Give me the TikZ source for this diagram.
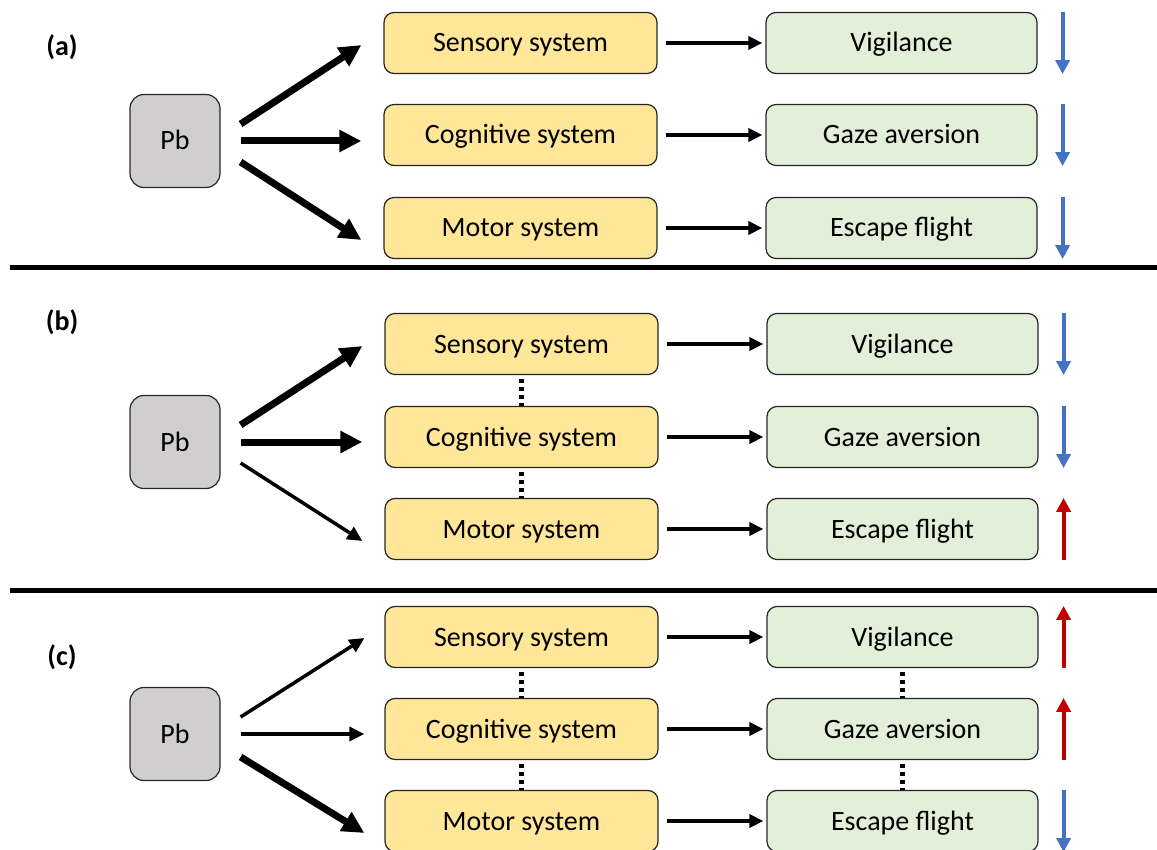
\documentclass[tikz,border=0pt]{standalone}
\usepackage{fontspec}
\setmainfont{Carlito}
\usetikzlibrary{arrows.meta}
\definecolor{sysfill}{HTML}{FFE699}
\definecolor{behfill}{HTML}{E2F0D9}
\definecolor{pbfill}{HTML}{D0CECE}
\definecolor{downblue}{HTML}{4472C4}
\definecolor{upred}{HTML}{C00000}
\begin{document}
\begin{tikzpicture}[x=1pt,y=-1pt,
  box/.style={draw=black!85, line width=1.2pt, rounded corners=10pt, minimum height=61pt,
              inner sep=0pt, text height=18pt, text depth=0pt,
              font=\fontsize{28}{32}\selectfont},
  sys/.style={box, fill=sysfill, minimum width=273pt},
  beh/.style={box, fill=behfill, minimum width=271pt},
  pb/.style={box, fill=pbfill, minimum width=90pt, minimum height=93pt, rounded corners=14pt},
  heavy/.style={line width=7pt, -{Triangle[length=22pt,width=21pt]}},
  light/.style={line width=3.5pt, -{Triangle[length=15pt,width=14pt]}},
  link/.style={line width=3.5pt, -{Triangle[length=14pt,width=13pt]}},
  dots/.style={line width=4.5pt, dash pattern=on 4pt off 4pt},
  fall/.style={line width=4pt, downblue, -{Triangle[length=14pt,width=14pt]}},
  rise/.style={line width=4pt, upred, -{Triangle[length=14pt,width=14pt]}},
  rule/.style={line width=5pt},
  tag/.style={font=\bfseries\fontsize{28}{32}\selectfont}
]
\useasboundingbox (0,0) rectangle (1157,850);

% separators between the panels
\draw[rule] (10,268) -- (1157,268);
\draw[rule] (10,590) -- (1157,590);

% ---------------- panel (a) ----------------
\node[tag] (tagA) at (62,47) {(a)};
\node[pb] (pbA) at (175,141) {Pb};
\node[sys] (senA) at (520.5,43) {Sensory system};
\node[sys] (cogA) at (520.5,135) {Cognitive system};
\node[sys] (motA) at (520.5,228) {Motor system};
\node[beh] (vigA) at (901.5,43) {Vigilance};
\node[beh] (gazA) at (901.5,135) {Gaze aversion};
\node[beh] (escA) at (901.5,228) {Escape flight};

\draw[heavy] ([shift={(20,-17)}]pbA.east) -- ([shift={(-22,2)}]senA.west);
\draw[heavy] ([shift={(20,0)}]pbA.east) -- ([shift={(-22,6)}]cogA.west);
\draw[heavy] ([shift={(20,21)}]pbA.east) -- ([shift={(-22,12)}]motA.west);

\draw[link] ([shift={(8,0)}]senA.east) -- ([shift={(-3,0)}]vigA.west);
\draw[link] ([shift={(8,0)}]cogA.east) -- ([shift={(-3,0)}]gazA.west);
\draw[link] ([shift={(8,0)}]motA.east) -- ([shift={(-3,0)}]escA.west);

\draw[fall] ([shift={(25,0)}]vigA.north east) -- ([shift={(25,0)}]vigA.south east);
\draw[fall] ([shift={(25,0)}]gazA.north east) -- ([shift={(25,0)}]gazA.south east);
\draw[fall] ([shift={(25,0)}]escA.north east) -- ([shift={(25,0)}]escA.south east);

% ---------------- panel (b) ----------------
\node[tag] (tagB) at (62,322) {(b)};
\node[pb] (pbB) at (175,442) {Pb};
\node[sys] (senB) at (521.5,344) {Sensory system};
\node[sys] (cogB) at (521.5,437) {Cognitive system};
\node[sys] (motB) at (521.5,529) {Motor system};
\node[beh] (vigB) at (902.5,344) {Vigilance};
\node[beh] (gazB) at (902.5,437) {Gaze aversion};
\node[beh] (escB) at (902.5,529) {Escape flight};

\draw[heavy] ([shift={(20,-17)}]pbB.east) -- ([shift={(-22,2)}]senB.west);
\draw[heavy] ([shift={(20,0)}]pbB.east) -- ([shift={(-22,5)}]cogB.west);
\draw[light] ([shift={(20,21)}]pbB.east) -- ([shift={(-22,12)}]motB.west);

\draw[dots] ([shift={(0,4)}]senB.south) -- (cogB.north);
\draw[dots] ([shift={(0,4)}]cogB.south) -- (motB.north);

\draw[link] ([shift={(8,0)}]senB.east) -- ([shift={(-3,0)}]vigB.west);
\draw[link] ([shift={(8,0)}]cogB.east) -- ([shift={(-3,0)}]gazB.west);
\draw[link] ([shift={(8,0)}]motB.east) -- ([shift={(-3,0)}]escB.west);

\draw[fall] ([shift={(25,0)}]vigB.north east) -- ([shift={(25,0)}]vigB.south east);
\draw[fall] ([shift={(25,0)}]gazB.north east) -- ([shift={(25,0)}]gazB.south east);
\draw[rise] ([shift={(25,0)}]escB.south east) -- ([shift={(25,0)}]escB.north east);

% ---------------- panel (c) ----------------
\node[tag] (tagC) at (62,657) {(c)};
\node[pb] (pbC) at (175,734) {Pb};
\node[sys] (senC) at (521.5,637) {Sensory system};
\node[sys] (cogC) at (521.5,729) {Cognitive system};
\node[sys] (motC) at (521.5,821) {Motor system};
\node[beh] (vigC) at (902.5,637) {Vigilance};
\node[beh] (gazC) at (902.5,729) {Gaze aversion};
\node[beh] (escC) at (902.5,821) {Escape flight};

\draw[light] ([shift={(20,-17)}]pbC.east) -- ([shift={(-20,1)}]senC.west);
\draw[light] ([shift={(20,0)}]pbC.east) -- ([shift={(-20,5)}]cogC.west);
\draw[heavy] ([shift={(20,23)}]pbC.east) -- ([shift={(-20,12)}]motC.west);

\draw[dots] ([shift={(0,4)}]senC.south) -- (cogC.north);
\draw[dots] ([shift={(0,4)}]cogC.south) -- (motC.north);
\draw[dots] ([shift={(0,4)}]vigC.south) -- (gazC.north);
\draw[dots] ([shift={(0,4)}]gazC.south) -- (escC.north);

\draw[link] ([shift={(8,0)}]senC.east) -- ([shift={(-3,0)}]vigC.west);
\draw[link] ([shift={(8,0)}]cogC.east) -- ([shift={(-3,0)}]gazC.west);
\draw[link] ([shift={(8,0)}]motC.east) -- ([shift={(-3,0)}]escC.west);

\draw[rise] ([shift={(25,0)}]vigC.south east) -- ([shift={(25,0)}]vigC.north east);
\draw[rise] ([shift={(25,0)}]gazC.south east) -- ([shift={(25,0)}]gazC.north east);
\draw[fall] ([shift={(25,0)}]escC.north east) -- ([shift={(25,0)}]escC.south east);
\end{tikzpicture}
\end{document}
